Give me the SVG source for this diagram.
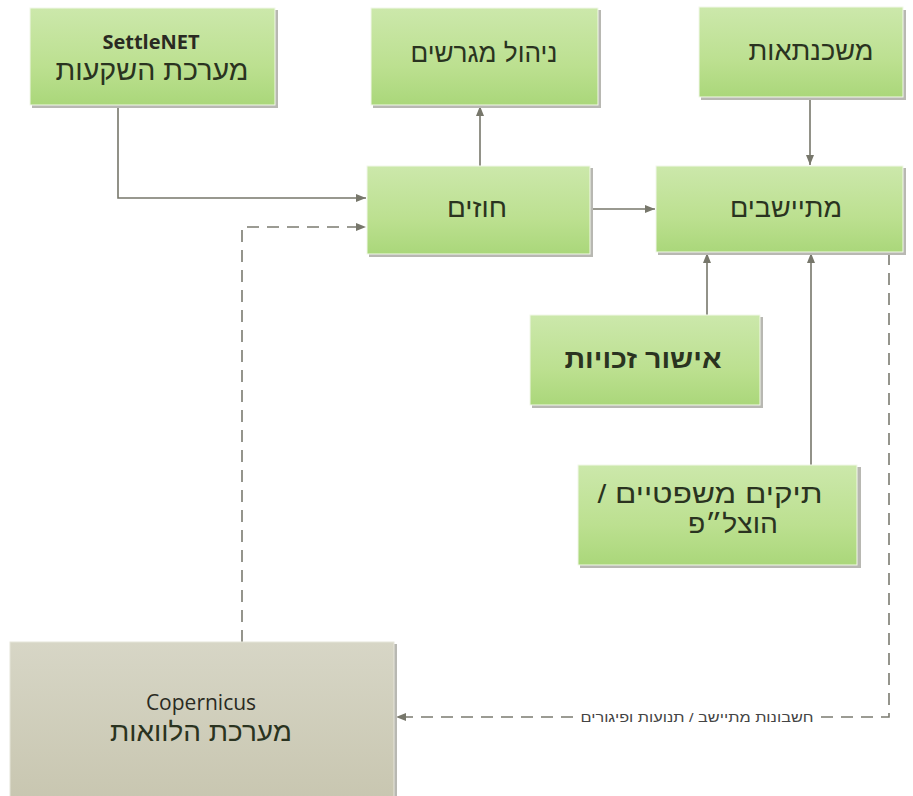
<svg xmlns="http://www.w3.org/2000/svg" width="913" height="796" viewBox="0 0 913 796">
<defs>
<linearGradient id="g" x1="0" y1="0" x2="0" y2="1">
<stop offset="0" stop-color="#cce8ab"/>
<stop offset="0.6" stop-color="#bce090"/>
<stop offset="1" stop-color="#aad77a"/>
</linearGradient>
<linearGradient id="t" x1="0" y1="0" x2="0" y2="1">
<stop offset="0" stop-color="#d7d6c6"/>
<stop offset="1" stop-color="#c8c6b0"/>
</linearGradient>
<marker id="a" markerWidth="10" markerHeight="8" refX="10" refY="4" orient="auto" markerUnits="userSpaceOnUse">
<path d="M0,0 L10,4 L0,8 Z" fill="#77776b"/>
</marker>
<style>
.box{fill:url(#g);stroke:#f2f8ea;stroke-width:1}
.tan{fill:url(#t);stroke:#e6e5da;stroke-width:1}
.sh{fill:#b8b8b2}
.lbl{font-family:"Liberation Sans","DejaVu Sans",sans-serif;font-size:26px;fill:#2a3320;text-anchor:middle}
.en{font-family:"Open Sans","DejaVu Sans",sans-serif;text-anchor:middle;fill:#2a2a22}
.c{fill:none;stroke:#77776b;stroke-width:1.6}
.d{fill:none;stroke:#7b7b70;stroke-width:1.6;stroke-dasharray:12 8}
.small{font-family:"Liberation Sans","DejaVu Sans",sans-serif;font-size:13px;fill:#444;text-anchor:middle}
</style>
</defs>
<rect width="913" height="796" fill="#ffffff"/>

<g id="connectors">
<path class="c" d="M118 105 V198 H366" marker-end="url(#a)"/>
<path class="c" d="M480 166 V106" marker-end="url(#a)"/>
<path class="c" d="M590 209 H655" marker-end="url(#a)"/>
<path class="c" d="M810 98 V165" marker-end="url(#a)"/>
<path class="c" d="M707 315 V253" marker-end="url(#a)"/>
<path class="c" d="M811 465 V253" marker-end="url(#a)"/>
<path class="d" d="M242 642 V227 H366" marker-end="url(#a)"/>
<path class="d" d="M889 253 V717 H396" marker-end="url(#a)"/>
<rect x="579" y="709" width="238" height="16" fill="#ffffff"/>
<text class="small" x="697" y="722" direction="rtl" textLength="233" lengthAdjust="spacingAndGlyphs">חשבונות מתיישב / תנועות ופיגורים</text>
</g>

<g id="settlenet">
<rect class="sh" x="32" y="10" width="246" height="98"/>
<rect class="box" x="30" y="8" width="245" height="97"/>
<text class="en" x="151" y="49" style="font-size:20px;font-weight:bold">SettleNET</text>
<text class="lbl" x="152" y="80" style="font-size:28px" direction="rtl" textLength="193" lengthAdjust="spacingAndGlyphs">מערכת השקעות</text>
</g>

<g id="nihul">
<rect class="sh" x="373" y="10" width="228" height="98"/>
<rect class="box" x="371" y="8" width="227" height="97"/>
<text class="lbl" x="484" y="62" direction="rtl" textLength="147" lengthAdjust="spacingAndGlyphs">ניהול מגרשים</text>
</g>

<g id="mashkantaot">
<rect class="sh" x="701" y="10" width="205" height="90"/>
<rect class="box" x="699" y="7" width="204" height="90"/>
<text class="lbl" x="811" y="60" direction="rtl" textLength="125" lengthAdjust="spacingAndGlyphs">משכנתאות</text>
</g>

<g id="hozim">
<rect class="sh" x="369" y="168" width="224" height="89"/>
<rect class="box" x="367" y="166" width="223" height="88"/>
<text class="lbl" x="477" y="217" direction="rtl" textLength="60" lengthAdjust="spacingAndGlyphs">חוזים</text>
</g>

<g id="mityashvim">
<rect class="sh" x="658" y="168" width="248" height="87"/>
<rect class="box" x="656" y="166" width="247" height="86"/>
<text class="lbl" x="786" y="217" direction="rtl" textLength="112" lengthAdjust="spacingAndGlyphs">מתיישבים</text>
</g>

<g id="ishur">
<rect class="sh" x="532" y="317" width="231" height="91"/>
<rect class="box" x="530" y="315" width="230" height="90"/>
<text class="lbl" x="643" y="368" style="font-weight:bold" direction="rtl" textLength="157" lengthAdjust="spacingAndGlyphs">אישור זכויות</text>
</g>

<g id="tikim">
<rect class="sh" x="580" y="467" width="281" height="101"/>
<rect class="box" x="578" y="465" width="279" height="100"/>
<text class="lbl" x="710" y="503" direction="rtl" textLength="225" lengthAdjust="spacingAndGlyphs">תיקים משפטיים /</text>
<text class="lbl" x="733" y="533" direction="rtl" textLength="90" lengthAdjust="spacingAndGlyphs">הוצל״פ</text>
</g>

<g id="copernicus">
<rect class="sh" x="12" y="644" width="385" height="160"/>
<rect class="tan" x="10" y="642" width="384" height="160"/>
<text class="en" x="201" y="710" style="font-size:21px">Copernicus</text>
<text class="lbl" x="201" y="741" style="font-size:26px" direction="rtl" textLength="182" lengthAdjust="spacingAndGlyphs">מערכת הלוואות</text>
</g>
</svg>
